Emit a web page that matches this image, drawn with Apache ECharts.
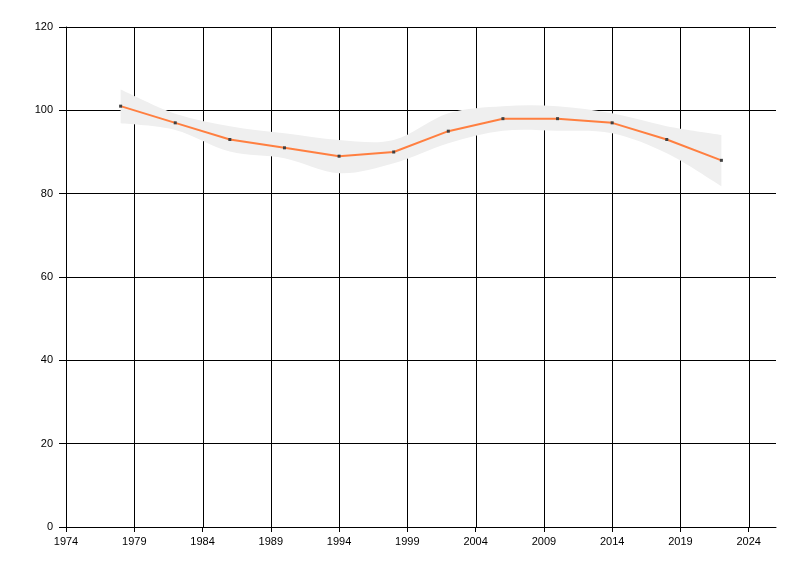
<!DOCTYPE html>
<html><head><meta charset="utf-8">
<script src="https://cdn.jsdelivr.net/npm/echarts@6/dist/echarts.min.js"></script>
<style>html,body{margin:0;padding:0;background:#fff}#c{width:800px;height:576px}</style>
</head><body><div id="c"></div>
<script>
const years  = [1978,1982,1986,1990,1994,1998,2002,2006,2010,2014,2018,2022];
const values = [101,97,93,91,89,90,95,98,98,97,93,88];
const upper  = [105,99.2,96.2,94.5,92.9,92.9,99.3,101,101,99.3,96.2,94.1];
const lower  = [96.9,95.3,90.1,88.5,84.9,87.3,92.1,95.1,95.1,94.5,89.7,81.8];
const xTicks = [1974,1979,1984,1989,1994,1999,2004,2009,2014,2019,2024];

function curve(pts, start) {
  let d = start ? 'M' + pts[0][0] + ',' + pts[0][1] : 'L' + pts[0][0] + ',' + pts[0][1];
  for (let i = 0; i < pts.length - 1; i++) {
    const p0 = pts[Math.max(i - 1, 0)], p1 = pts[i], p2 = pts[i + 1], p3 = pts[Math.min(i + 2, pts.length - 1)];
    const c1 = [p1[0] + (p2[0] - p0[0]) / 6, p1[1] + (p2[1] - p0[1]) / 6];
    const c2 = [p2[0] - (p3[0] - p1[0]) / 6, p2[1] - (p3[1] - p1[1]) / 6];
    d += 'C' + c1[0] + ',' + c1[1] + ' ' + c2[0] + ',' + c2[1] + ' ' + p2[0] + ',' + p2[1];
  }
  return d;
}

const font = {fontFamily:'"Liberation Sans", Arial, sans-serif', fontSize:11, color:'#000'};
const chart = echarts.init(document.getElementById('c'), null, {renderer:'canvas'});
chart.setOption({
  animation:false,
  grid:{left:66,right:24,top:27,bottom:49,containLabel:false},
  xAxis:{type:'value',min:1974,max:2026,interval:5,
    axisLine:{lineStyle:{color:'#000',width:1}},
    axisTick:{show:true,length:5,lineStyle:{color:'#000'},customValues:xTicks},
    axisLabel:Object.assign({margin:9,customValues:xTicks,formatter:v=>String(v)},font),
    splitLine:{show:false}},
  yAxis:{type:'value',min:0,max:120,interval:20,
    axisLine:{show:true,lineStyle:{color:'#000',width:1}},
    axisTick:{show:true,length:7,lineStyle:{color:'#000'}},
    axisLabel:Object.assign({margin:13},font),
    splitLine:{show:true,lineStyle:{color:'#000',width:1}}},
  series:[
    {type:'custom',z:1,silent:true,
      data:xTicks.slice(1).map(v=>[v]),
      encode:{x:0},
      renderItem:function(params, api){
        const v = api.value(0);
        const a = api.coord([v,0]), b = api.coord([v,120]);
        const x = Math.round(a[0]) + 0.5;
        return {type:'line',shape:{x1:x,y1:a[1],x2:x,y2:b[1]},style:{stroke:'#000',lineWidth:1}};
      }},
    {type:'custom',z:3,silent:true,
      data:years.map((y,i)=>[y,lower[i],upper[i]]),
      encode:{x:0,y:[1,2]},
      renderItem:function(params, api){
        if (params.dataIndex !== 0) return null;
        const up = years.map((y,i)=>api.coord([y,upper[i]]));
        const lo = years.map((y,i)=>api.coord([y,lower[i]])).reverse();
        const d = curve(up,true) + curve(lo,false) + 'Z';
        return {type:'path',shape:{pathData:d},style:{fill:'#efefef',stroke:null}};
      }},
    {type:'line',data:years.map((y,i)=>[y,values[i]]),
      lineStyle:{color:'#ff7f40',width:2},symbol:'rect',symbolSize:3,
      itemStyle:{color:'#404040'},showAllSymbol:true,z:5}
  ]
});
</script></body></html>
